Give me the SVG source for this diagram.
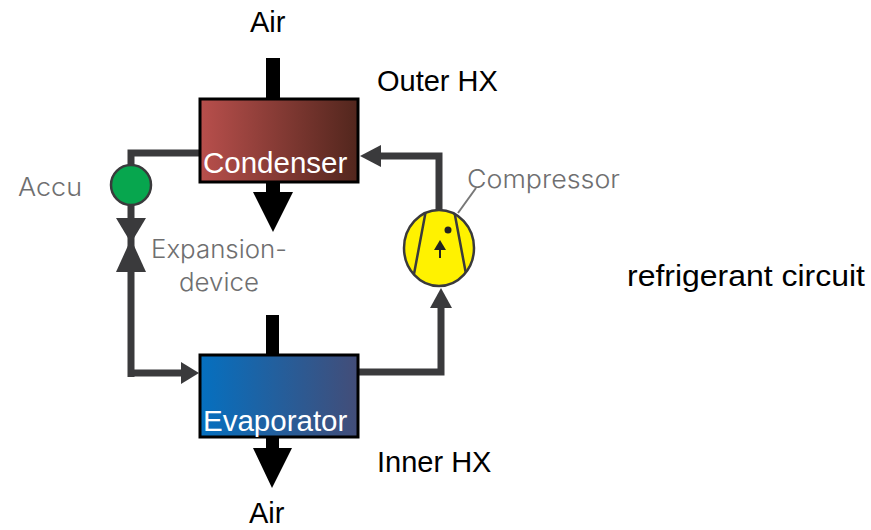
<svg xmlns="http://www.w3.org/2000/svg" width="871" height="530" viewBox="0 0 871 530">
<style>
.sans{font-family:"Liberation Sans",Arial,sans-serif}
.lbl{font-size:29px;fill:#000}
.wht{font-size:29.5px;fill:#fff}
.gry{font-size:25px;fill:#6f6f70;font-family:Inter,"Liberation Sans",sans-serif;font-weight:300}
.pipe{fill:none;stroke:#3a3a3c;stroke-width:7}
.thin{fill:none;stroke:#3a3a3c;stroke-width:2.5}
.head{fill:#3a3a3c}
.box{stroke:#000;stroke-width:3}
</style>
<defs>
<linearGradient id="cond" x1="0" x2="1" y1="0" y2="0"><stop offset="0" stop-color="#b84f4c"/><stop offset="1" stop-color="#52261d"/></linearGradient>
<linearGradient id="evap" x1="0" x2="1" y1="0" y2="0"><stop offset="0" stop-color="#0570c0"/><stop offset="1" stop-color="#434d78"/></linearGradient>
<clipPath id="cmp"><ellipse cx="439" cy="248" rx="35" ry="38"/></clipPath>
</defs>
<rect width="871" height="530" fill="#fff"/>
<g id="connectors">
<path class="pipe" d="M199 153H131V170"/>
<path class="pipe" d="M131 204V377M131 373H185"/>
<polygon class="head" points="199,373 181,362 181,384"/>
<path class="pipe" d="M359 372H441V305"/>
<polygon class="head" points="441,288 430,308 452,308"/>
<path class="pipe" d="M439 212V156H378"/>
<polygon class="head" points="360,156 381,145 381,167"/>
<path d="M458 213L476 188" fill="none" stroke="#777" stroke-width="2"/>
<rect x="266" y="58" width="14" height="42" fill="#000"/>
<polygon points="266,183 280,183 280,192 293,192 273,232 253,192 266,192" fill="#000"/>
<rect x="266" y="315" width="13" height="41" fill="#000"/>
<polygon points="266,438 279,438 279,448 292,448 272,488 253,448 266,448" fill="#000"/>
</g>
<g id="condenser">
<rect class="box" x="200" y="99" width="158" height="83" fill="url(#cond)"/>
<text class="sans wht" x="203" y="173">Condenser</text>
</g>
<g id="evaporator">
<rect class="box" x="200" y="355" width="158" height="82" fill="url(#evap)"/>
<text class="sans wht" x="203" y="431">Evaporator</text>
</g>
<g id="accu">
<circle cx="131" cy="185" r="20" fill="#07a64e" stroke="#3a3a3c" stroke-width="2.5"/>
<text class="gry" x="18" y="196" textLength="64" lengthAdjust="spacingAndGlyphs">Accu</text>
</g>
<g id="expansion-device">
<polygon class="head" points="116,218 146,218 131,243"/>
<polygon class="head" points="131,239 116,272 146,272"/>
<text class="gry" x="151" y="258" textLength="136" lengthAdjust="spacingAndGlyphs">Expansion-</text>
<text class="gry" x="179" y="291" textLength="80" lengthAdjust="spacingAndGlyphs">device</text>
</g>
<g id="compressor">
<ellipse cx="439" cy="248" rx="35" ry="38" fill="#fff200" stroke="#3a3a3c" stroke-width="2.5"/>
<path class="thin" clip-path="url(#cmp)" d="M426 210L414 274M454 210L466 274"/>
<circle cx="448" cy="230" r="3.5" fill="#222"/>
<path d="M440 258V246" stroke="#222" stroke-width="2"/>
<polygon points="440,240 434,250 446,250" fill="#222"/>
<text class="gry" x="467" y="188" textLength="153" lengthAdjust="spacingAndGlyphs">Compressor</text>
</g>
<g id="labels">
<text class="sans lbl" x="250" y="32">Air</text>
<text class="sans lbl" x="377" y="91">Outer HX</text>
<text class="sans lbl" x="377" y="472">Inner HX</text>
<text class="sans lbl" x="249" y="523">Air</text>
<text class="sans lbl" x="627" y="286" textLength="238" lengthAdjust="spacingAndGlyphs">refrigerant circuit</text>
</g>
</svg>
